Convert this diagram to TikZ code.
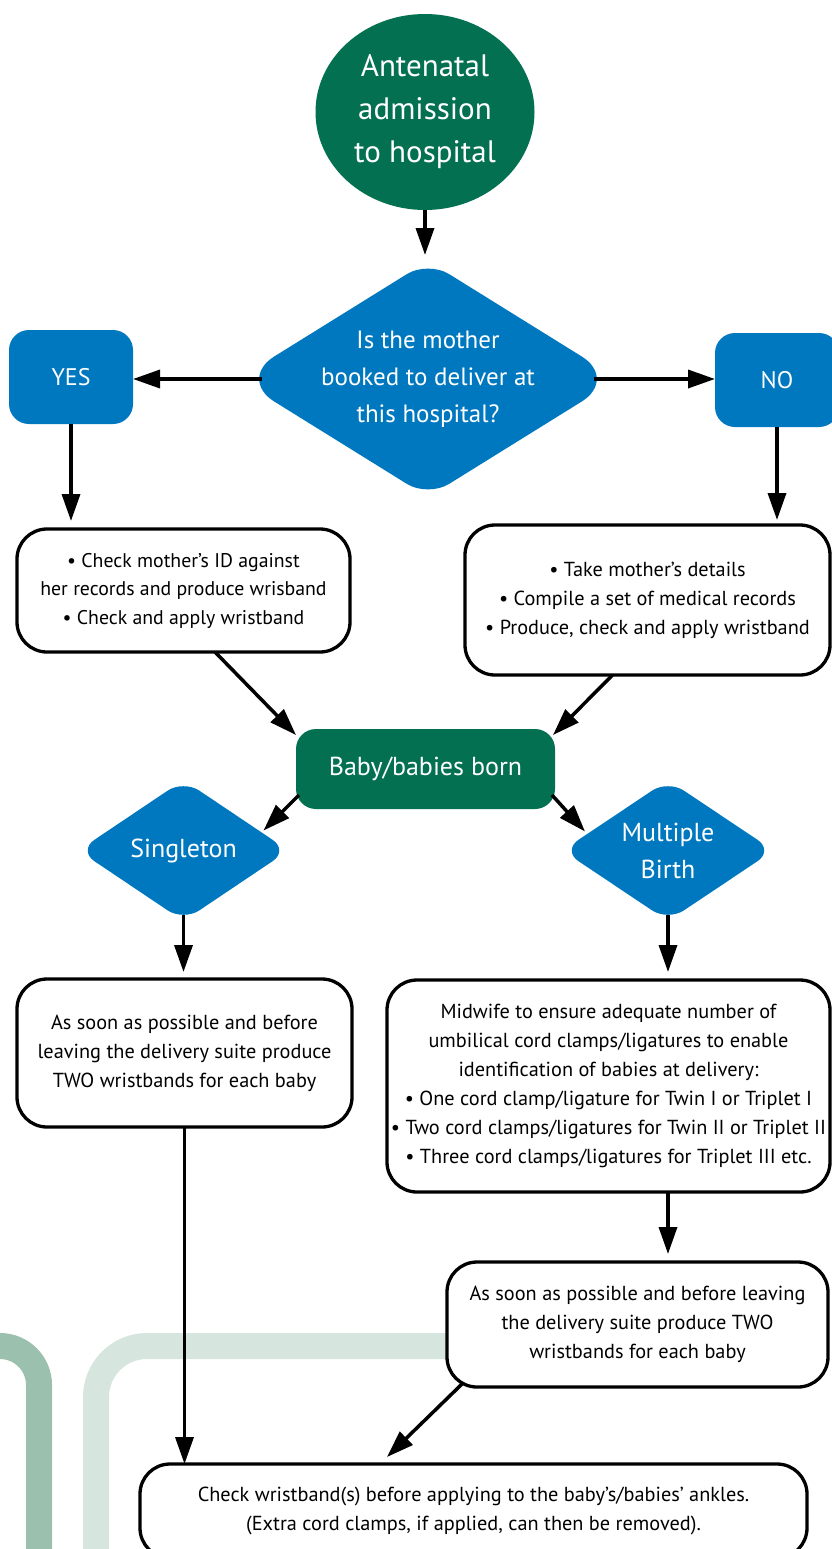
\documentclass[tikz,border=0pt]{standalone}
\usepackage{fontspec}
\setmainfont{PT Sans}
\usetikzlibrary{arrows.meta,calc,backgrounds,shapes.geometric}
\definecolor{nhsgreen}{HTML}{037052}
\definecolor{nhsblue}{HTML}{0078C0}
\definecolor{banddark}{HTML}{9BC0AD}
\definecolor{bandlight}{HTML}{D6E6DE}
\newcommand\rdiam[3]{%
 \path ($(#1.west)!#2!(#1.north)$) coordinate (#1-wn)
       ($(#1.north)!#3!(#1.west)$) coordinate (#1-nw)
       ($(#1.north)!#3!(#1.east)$) coordinate (#1-ne)
       ($(#1.east)!#2!(#1.north)$) coordinate (#1-en)
       ($(#1.east)!#2!(#1.south)$) coordinate (#1-es)
       ($(#1.south)!#3!(#1.east)$) coordinate (#1-se)
       ($(#1.south)!#3!(#1.west)$) coordinate (#1-sw)
       ($(#1.west)!#2!(#1.south)$) coordinate (#1-ws);
 \fill[nhsblue] (#1-wn) -- (#1-nw)
   .. controls ($(#1-nw)!0.55!(#1.north)$) and ($(#1-ne)!0.55!(#1.north)$) .. (#1-ne)
   -- (#1-en)
   .. controls ($(#1-en)!0.55!(#1.east)$) and ($(#1-es)!0.55!(#1.east)$) .. (#1-es)
   -- (#1-se)
   .. controls ($(#1-se)!0.55!(#1.south)$) and ($(#1-sw)!0.55!(#1.south)$) .. (#1-sw)
   -- (#1-ws)
   .. controls ($(#1-ws)!0.55!(#1.west)$) and ($(#1-wn)!0.55!(#1.west)$) .. (#1-wn) -- cycle;}
\begin{document}
\begin{tikzpicture}[x=1pt,y=-1pt,
  wbox/.style={draw=black, line width=3.3pt, fill=white, rounded corners=30pt,
    align=center, inner sep=0pt, outer sep=0pt,
    font=\fontsize{20.3}{29}\selectfont},
  bbox/.style={fill=nhsblue, rounded corners=20pt, text=white, inner sep=0pt,
    outer sep=0pt, font=\fontsize{24}{30}\selectfont},
  gbox/.style={fill=nhsgreen, rounded corners=20pt, text=white, inner sep=0pt,
    outer sep=0pt, align=center, font=\fontsize{26}{30}\selectfont},
  dia/.style={rectangle, inner sep=0pt, outer sep=0pt, text=white, align=center,
    font=\fontsize{25}{37}\selectfont},
  arr/.style={line width=3.5pt, -{Triangle[length=27pt,width=18pt]}},
  band/.style={line width=26pt, rounded corners=#1}
]
\useasboundingbox (0,0) rectangle (831,1549);

% nodes
\node[ellipse, fill=nhsgreen, minimum width=219pt, minimum height=196pt,
  text=white, align=center, inner sep=0pt, outer sep=0pt,
  font=\fontsize{31}{43}\selectfont] (start) at (425,112)
  {Antenatal\\admission\\to hospital};
\node[dia, minimum width=380pt, minimum height=236pt] (q) at (428,379)
  {Is the mother\\booked to deliver at\\this hospital?};
\node[bbox, minimum width=124pt, minimum height=94pt] (yes) at (71,377) {YES};
\node[bbox, minimum width=124pt, minimum height=94pt] (no) at (777,380) {NO};
\node[wbox, minimum width=333pt, minimum height=123pt,
  font=\fontsize{19.8}{28.5}\selectfont] (lbox) at (183.5,590.5)
  {• Check mother’s ID against\\her records and produce wrisband\\• Check and apply wristband};
\node[wbox, minimum width=365pt, minimum height=150pt] (rbox) at (647.5,600)
  {• Take mother’s details\\• Compile a set of medical records\\• Produce, check and apply wristband};
\node[gbox, minimum width=259pt, minimum height=80pt] (baby) at (425.5,769)
  {Baby/babies born};
\node[dia, minimum width=210pt, minimum height=141pt,
  font=\fontsize{26}{37}\selectfont] (single) at (183.5,850.5)
  {Singleton};
\node[dia, minimum width=211pt, minimum height=141pt,
  font=\fontsize{26}{37}\selectfont] (multi) at (668,850.5)
  {Multiple\\Birth};
\node[wbox, minimum width=335pt, minimum height=148pt] (sbox) at (184.5,1053)
  {As soon as possible and before\\leaving the delivery suite produce\\TWO wristbands for each baby};
\node[wbox, minimum width=443pt, minimum height=212pt] (mbox) at (608.5,1086)
  {Midwife to ensure adequate number of\\umbilical cord clamps/ligatures to enable\\identification of babies at delivery:\\• One cord clamp/ligature for Twin I or Triplet I\\• Two cord clamps/ligatures for Twin II or Triplet II\\• Three cord clamps/ligatures for Triplet III etc.};
\node[wbox, minimum width=381pt, minimum height=125pt] (m2box) at (637.5,1324.5)
  {As soon as possible and before leaving\\the delivery suite produce TWO\\wristbands for each baby};
\node[wbox, minimum width=667pt, minimum height=94pt] (endbox) at (473.5,1511)
  {Check wristband(s) before applying to the baby’s/babies’ ankles.\\(Extra cord clamps, if applied, can then be removed).};

% background bands and diamond fills
\begin{pgfonlayer}{background}
  \draw[band=39pt, banddark] (-30,1346) -- (39,1346) -- (39,1580);
  \draw[band=51pt, bandlight] (600,1346) -- (96,1346) -- (96,1580);
  \rdiam{q}{0.19}{0.11}
  \rdiam{single}{0.15}{0.15}
  \rdiam{multi}{0.15}{0.15}
\end{pgfonlayer}

% connectors
\draw[arr, shorten >=6pt] (start.south) -- (start.south |- q.north);
\draw[arr] ([xshift=24pt]q.west) -- (q.west -| yes.east);
\draw[arr] ([xshift=-24pt]q.east) -- (q.east -| no.west);
\draw[arr, shorten >=8pt] (yes.south) -- (yes.south |- lbox.north);
\draw[arr, shorten >=5pt] (no.south) -- (no.south |- rbox.north);
\draw[arr] ([xshift=31.5pt]lbox.south) -- ([yshift=-6pt]baby.north west);
\draw[arr] ([xshift=-35pt]rbox.south) -- ([xshift=-2pt,yshift=-6pt]baby.north east);
\draw[arr] ([xshift=3pt,yshift=-26pt]baby.west) -- ([xshift=80pt,yshift=20pt]single.center);
\draw[arr] ([xshift=-3pt,yshift=-26pt]baby.east) -- ([xshift=-83pt,yshift=19pt]multi.center);
\draw[arr, shorten >=7pt] ([yshift=6pt]single.south) -- (single.south |- sbox.north);
\draw[arr, shorten >=8pt] ([yshift=6pt]multi.south) -- (multi.south |- mbox.north);
\draw[arr, shorten >=8pt] (multi.south |- mbox.south) -- (multi.south |- m2box.north);
\draw[arr] ([xshift=16pt,yshift=4pt]m2box.south west) -- ([xshift=-86.5pt,yshift=7pt]endbox.north);
\draw[arr] (sbox.south) -- (sbox.south |- endbox.north);
\end{tikzpicture}
\end{document}
